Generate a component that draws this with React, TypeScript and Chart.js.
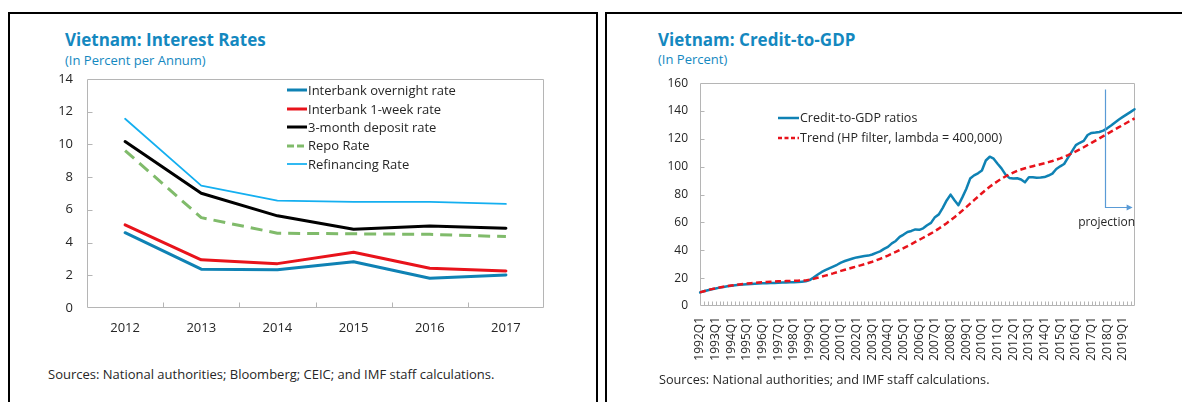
import React, { useEffect, useRef } from "react";
import { Chart, registerables } from "chart.js";

Chart.register(...registerables);

const FONT = "'Open Sans', 'Noto Sans', 'DejaVu Sans', sans-serif";
const TEXT = "#262626";
const FRAME = "#b5b5b5";
const TITLE_BLUE = "#1488bf";

// ---------------- Left chart: interest rates ----------------
const rateYears = ["2012", "2013", "2014", "2015", "2016", "2017"];
const interbankOvernight = [4.6, 2.37, 2.33, 2.83, 1.82, 2.02];
const interbank1Week = [5.08, 2.94, 2.71, 3.41, 2.43, 2.26];
const deposit3Month = [10.17, 7.01, 5.63, 4.81, 5.01, 4.87];
const repoRate = [9.62, 5.52, 4.57, 4.53, 4.5, 4.36];
const refinancingRate = [11.56, 7.48, 6.56, 6.48, 6.48, 6.36];
const rateTicks = [0, 2, 4, 6, 8, 10, 12, 14];

// ---------------- Right chart: credit-to-GDP ----------------
const creditYears = [
  1992, 1993, 1994, 1995, 1996, 1997, 1998, 1999, 2000, 2001, 2002, 2003, 2004, 2005,
  2006, 2007, 2008, 2009, 2010, 2011, 2012, 2013, 2014, 2015, 2016, 2017, 2018, 2019,
];
const quarterNames = ["Q1", "Q2", "Q3", "Q4"];
const creditLabels = creditYears.flatMap((y) => quarterNames.map((q) => `${y}${q}`));
const creditToGdp = [
  9.8, 10.6, 11.3, 12.0,
  12.6, 13.2, 13.7, 14.2,
  14.6, 14.9, 15.2, 15.4,
  15.6, 15.8, 16.0, 16.2,
  16.3, 16.4, 16.5, 16.6,
  16.7, 16.8, 16.9, 17.0,
  17.1, 17.3, 17.5, 17.7,
  18.6, 20.4, 22.4, 24.3,
  25.7, 27.0, 28.3, 29.6,
  31.2, 32.3, 33.2, 34.1,
  34.9, 35.4, 35.9, 36.2,
  37.0, 38.2, 39.2, 41.0,
  42.5, 45.0, 46.7, 49.6,
  51.3, 53.2, 53.9, 55.0,
  54.7, 55.8, 58.0, 59.7,
  63.8, 65.8, 70.5, 75.8,
  80.0, 76.0, 72.4, 78.0,
  84.0, 91.5, 93.8, 95.3,
  97.3, 104.5, 107.2, 105.8,
  102.2, 98.8, 94.5, 92.0,
  91.6, 91.7, 90.8, 88.8,
  92.5, 92.4, 92.1, 92.2,
  92.6, 93.7, 95.1, 98.4,
  100.3, 102.0, 106.5, 111.0,
  115.5, 117.2, 118.6, 122.8,
  124.3, 124.6, 125.0, 125.9,
  127.6, 129.6, 131.8, 133.9,
  135.8, 137.6, 139.4, 141.3,
];
const hpTrend = [
  9.8, 10.6, 11.4, 12.1,
  12.7, 13.3, 13.8, 14.3,
  14.7, 15.1, 15.5, 15.8,
  16.1, 16.4, 16.6, 16.8,
  17.0, 17.2, 17.4, 17.5,
  17.7, 17.8, 17.9, 18.0,
  18.1, 18.2, 18.3, 18.4,
  18.8, 19.5, 20.3, 21.0,
  21.8, 22.6, 23.4, 24.3,
  25.2, 26.0, 26.8, 27.6,
  28.4, 29.2, 30.0, 30.9,
  31.8, 32.8, 33.9, 35.0,
  36.2, 37.5, 38.8, 40.2,
  41.6, 43.0, 44.5, 46.0,
  47.5, 49.0, 50.5, 52.1,
  53.8, 55.6, 57.5, 59.5,
  61.6, 63.8, 66.1, 68.5,
  71.0, 73.5, 76.0, 78.5,
  81.0, 83.4, 85.6, 87.7,
  89.6, 91.4, 93.0, 94.5,
  95.8, 97.0, 98.0, 98.9,
  99.7, 100.4, 101.1, 101.8,
  102.5, 103.3, 104.1, 105.0,
  106.0, 107.1, 108.3, 109.6,
  111.0, 112.5, 114.0, 115.6,
  117.2, 118.8, 120.4, 122.0,
  123.6, 125.2, 126.8, 128.4,
  130.0, 131.6, 133.2, 134.8,
];
const creditTicks = [0, 20, 40, 60, 80, 100, 120, 140, 160];
// projection marker: between 2017Q4 and 2018Q1 (category index), spanning these y values
const projectionAt = 103.4;
const projectionTop = 155.5;
const projectionBottom = 71;

Chart.defaults.font.family = FONT;
Chart.defaults.color = TEXT;

const frameTicksPlugin = {
  id: "frameTicks",
  beforeDatasetsDraw(chart: any, _args: any, opts: any) {
    const { ctx, chartArea: a } = chart;
    const xs = chart.scales.x;
    const ys = chart.scales.y;
    const L = Math.round(a.left) + 0.5;
    const R = Math.round(a.right) - 0.5;
    const T = Math.round(a.top) + 0.5;
    const B = Math.round(a.bottom) - 0.5;
    ctx.save();
    ctx.strokeStyle = opts.color;
    ctx.lineWidth = 1;
    ctx.beginPath();
    ctx.rect(L, T, R - L, B - T);
    const n = xs.getLabels().length;
    if (opts.between) {
      for (let i = 1; i < n; i++) {
        const x = Math.round(xs.getPixelForValue(i - 0.5)) + 0.5;
        ctx.moveTo(x, B);
        ctx.lineTo(x, B - opts.xLen);
      }
    } else {
      for (let i = 1; i < n - 1; i++) {
        const x = Math.round(xs.getPixelForValue(i)) + 0.5;
        ctx.moveTo(x, B);
        ctx.lineTo(x, B - opts.xLen);
      }
    }
    ys.ticks.forEach((t: any) => {
      const y = Math.round(ys.getPixelForValue(t.value)) + 0.5;
      if (y > T + 1 && y < B - 1) {
        ctx.moveTo(L, y);
        ctx.lineTo(L + opts.yLen, y);
      }
    });
    ctx.stroke();
    ctx.restore();
  },
};

const projectionPlugin = {
  id: "projection",
  afterDatasetsDraw(chart: any, _args: any, opts: any) {
    if (!opts || opts.at == null) return;
    const { ctx, chartArea: a } = chart;
    const xs = chart.scales.x;
    const ys = chart.scales.y;
    const x = Math.round(xs.getPixelForValue(opts.at)) + 0.5;
    const yTop = ys.getPixelForValue(opts.top);
    const yBot = Math.round(ys.getPixelForValue(opts.bottom)) + 0.5;
    const xEnd = a.right - 2;
    ctx.save();
    ctx.strokeStyle = opts.color;
    ctx.fillStyle = opts.color;
    ctx.lineWidth = 1.2;
    ctx.beginPath();
    ctx.moveTo(x, yTop);
    ctx.lineTo(x, yBot);
    ctx.lineTo(xEnd - 5, yBot);
    ctx.stroke();
    ctx.beginPath();
    ctx.moveTo(xEnd, yBot);
    ctx.lineTo(xEnd - 6, yBot - 3);
    ctx.lineTo(xEnd - 6, yBot + 3);
    ctx.closePath();
    ctx.fill();
    ctx.restore();
  },
};

function lineDs(label: string, data: number[], color: string, width: number, dash?: number[]) {
  return {
    label,
    data,
    borderColor: color,
    backgroundColor: color,
    borderWidth: width,
    borderDash: dash || [],
    borderCapStyle: dash ? "butt" : "round",
    borderJoinStyle: "round",
    pointRadius: 0,
    pointHoverRadius: 0,
    tension: 0,
    fill: false,
  };
}

const COL_BLUE = "#0f82b4";
const COL_RED = "#e8131b";
const COL_BLACK = "#000000";
const COL_GREEN = "#80bb6b";
const COL_LIGHTBLUE = "#14aff0";

function ratesConfig(): any {
  return {
    type: "line",
    data: {
      labels: rateYears,
      datasets: [
        lineDs("Refinancing Rate", refinancingRate, COL_LIGHTBLUE, 1.75),
        lineDs("Repo Rate", repoRate, COL_GREEN, 3, [12, 7]),
        lineDs("3-month deposit rate", deposit3Month, COL_BLACK, 3),
        lineDs("Interbank 1-week rate", interbank1Week, COL_RED, 3),
        lineDs("Interbank overnight rate", interbankOvernight, COL_BLUE, 3),
      ],
    },
    plugins: [frameTicksPlugin],
    options: {
      responsive: false,
      animation: false,
      events: [],
      layout: { padding: { top: 0, right: 16, left: 0, bottom: 0 } },
      plugins: {
        legend: { display: false },
        tooltip: { enabled: false },
        frameTicks: { color: FRAME, between: true, xLen: 5, yLen: 5 },
      },
      scales: {
        x: {
          type: "category",
          offset: true,
          grid: { display: false, drawTicks: false },
          border: { display: false },
          ticks: { padding: 12, color: TEXT, font: { size: 13 }, maxRotation: 0, autoSkip: false },
          afterFit: (s: any) => {
            s.height = 37;
          },
        },
        y: {
          min: 0,
          max: 14,
          afterBuildTicks: (s: any) => {
            s.ticks = rateTicks.map((v) => ({ value: v }));
          },
          grid: { display: false, drawTicks: false },
          border: { display: false },
          ticks: { padding: 14, color: TEXT, font: { size: 13 } },
          afterFit: (s: any) => {
            s.width = 57;
          },
        },
      },
    },
  };
}

function creditConfig(): any {
  return {
    type: "line",
    data: {
      labels: creditLabels,
      datasets: [
        lineDs("Trend (HP filter, lambda = 400,000)", hpTrend, COL_RED, 2.5, [6, 3.5]),
        lineDs("Credit-to-GDP ratios", creditToGdp, COL_BLUE, 2.5),
      ],
    },
    plugins: [frameTicksPlugin, projectionPlugin],
    options: {
      responsive: false,
      animation: false,
      events: [],
      layout: { padding: { top: 0, right: 25, left: 0, bottom: 0 } },
      plugins: {
        legend: { display: false },
        tooltip: { enabled: false },
        frameTicks: { color: FRAME, between: false, xLen: 4, yLen: 4 },
        projection: {
          at: projectionAt,
          top: projectionTop,
          bottom: projectionBottom,
          color: "#5a9bd6",
        },
      },
      scales: {
        x: {
          type: "category",
          offset: false,
          grid: { display: false, drawTicks: false },
          border: { display: false },
          ticks: {
            padding: 11,
            color: TEXT,
            font: { size: 12 },
            autoSkip: false,
            minRotation: 90,
            maxRotation: 90,
            callback: (_v: any, i: number) => (i % 4 === 0 ? creditLabels[i] : ""),
          },
          afterFit: (s: any) => {
            s.height = 91;
          },
        },
        y: {
          min: 0,
          max: 160,
          afterBuildTicks: (s: any) => {
            s.ticks = creditTicks.map((v) => ({ value: v }));
          },
          grid: { display: false, drawTicks: false },
          border: { display: false },
          ticks: { padding: 12, color: TEXT, font: { size: 12 } },
          afterFit: (s: any) => {
            s.width = 70;
          },
        },
      },
    },
  };
}

function ChartCanvas(props: { make: () => any; left: number; top: number; width: number; height: number }) {
  const ref = useRef<HTMLCanvasElement | null>(null);
  useEffect(() => {
    if (!ref.current) return;
    const chart = new Chart(ref.current, props.make());
    return () => chart.destroy();
  }, []);
  return (
    <canvas
      ref={ref}
      width={props.width}
      height={props.height}
      style={{
        position: "absolute",
        left: props.left,
        top: props.top,
        width: props.width,
        height: props.height,
      }}
    />
  );
}

type LegendItem = { label: string; color: string; width: number; dash?: string };

const rateLegend: LegendItem[] = [
  { label: "Interbank overnight rate", color: COL_BLUE, width: 3 },
  { label: "Interbank 1-week rate", color: COL_RED, width: 3 },
  { label: "3-month deposit rate", color: COL_BLACK, width: 3 },
  { label: "Repo Rate", color: COL_GREEN, width: 3, dash: "7 3" },
  { label: "Refinancing Rate", color: COL_LIGHTBLUE, width: 1.75 },
];

const creditLegend: LegendItem[] = [
  { label: "Credit-to-GDP ratios", color: COL_BLUE, width: 2.5 },
  { label: "Trend (HP filter, lambda = 400,000)", color: COL_RED, width: 2.5, dash: "4 2.5" },
];

function Legend(props: {
  items: LegendItem[];
  left: number;
  top: number;
  row: number;
  size: number;
  sample: number;
}) {
  return (
    <div style={{ position: "absolute", left: props.left, top: props.top }}>
      {props.items.map((it) => (
        <div
          key={it.label}
          style={{
            display: "flex",
            alignItems: "center",
            height: props.row,
            whiteSpace: "nowrap",
          }}
        >
          <svg width={props.sample} height={8} style={{ display: "block", marginRight: 1 }}>
            <line
              x1={0}
              y1={4}
              x2={props.sample}
              y2={4}
              stroke={it.color}
              strokeWidth={it.width}
              strokeDasharray={it.dash}
            />
          </svg>
          <span style={{ fontSize: props.size, color: TEXT, lineHeight: `${props.row}px` }}>{it.label}</span>
        </div>
      ))}
    </div>
  );
}

function Text(props: {
  left: number;
  top: number;
  size: number;
  color: string;
  bold?: boolean;
  lh: number;
  children: React.ReactNode;
  right?: boolean;
}) {
  return (
    <div
      style={{
        position: "absolute",
        left: props.right ? undefined : props.left,
        right: props.right ? props.left : undefined,
        top: props.top,
        fontSize: props.size,
        lineHeight: `${props.lh}px`,
        color: props.color,
        fontWeight: props.bold ? 700 : 400,
        whiteSpace: "nowrap",
      }}
    >
      {props.children}
    </div>
  );
}

export default function App() {
  return (
    <div
      style={{
        position: "fixed",
        left: 0,
        top: 0,
        width: 1182,
        height: 402,
        overflow: "hidden",
        background: "#ffffff",
        fontFamily: FONT,
      }}
    >
      {/* panel frames */}
      <div
        style={{
          position: "absolute",
          left: 8,
          top: 12,
          width: 590,
          height: 420,
          border: "2px solid #000",
          boxSizing: "border-box",
        }}
      />
      <div
        style={{
          position: "absolute",
          left: 605,
          top: 12,
          width: 620,
          height: 420,
          border: "2px solid #000",
          boxSizing: "border-box",
        }}
      />

      {/* left panel */}
      <Text left={65} top={30} size={17} lh={20} color={TITLE_BLUE} bold>
        Vietnam: Interest Rates
      </Text>
      <Text left={65} top={52} size={13} lh={16} color={TITLE_BLUE}>
        (In Percent per Annum)
      </Text>
      <ChartCanvas make={ratesConfig} left={30} top={57} width={530} height={288} />
      <Legend items={rateLegend} left={287} top={81.3} row={18.4} size={13} sample={20} />
      <Text left={48} top={366} size={13} lh={16} color={TEXT}>
        Sources: National authorities; Bloomberg; CEIC; and IMF staff calculations.
      </Text>

      {/* right panel */}
      <Text left={658} top={30} size={17} lh={20} color={TITLE_BLUE} bold>
        Vietnam: Credit-to-GDP
      </Text>
      <Text left={658} top={51} size={13} lh={16} color={TITLE_BLUE}>
        (In Percent)
      </Text>
      <ChartCanvas make={creditConfig} left={630} top={64} width={530} height={333} />
      <Legend items={creditLegend} left={778} top={108} row={20} size={12.5} sample={21} />
      <Text left={1182 - 1135} top={214} size={12} lh={16} color={TEXT} right>
        projection
      </Text>
      <Text left={659} top={371} size={12.7} lh={16} color={TEXT}>
        Sources: National authorities; and IMF staff calculations.
      </Text>
    </div>
  );
}
